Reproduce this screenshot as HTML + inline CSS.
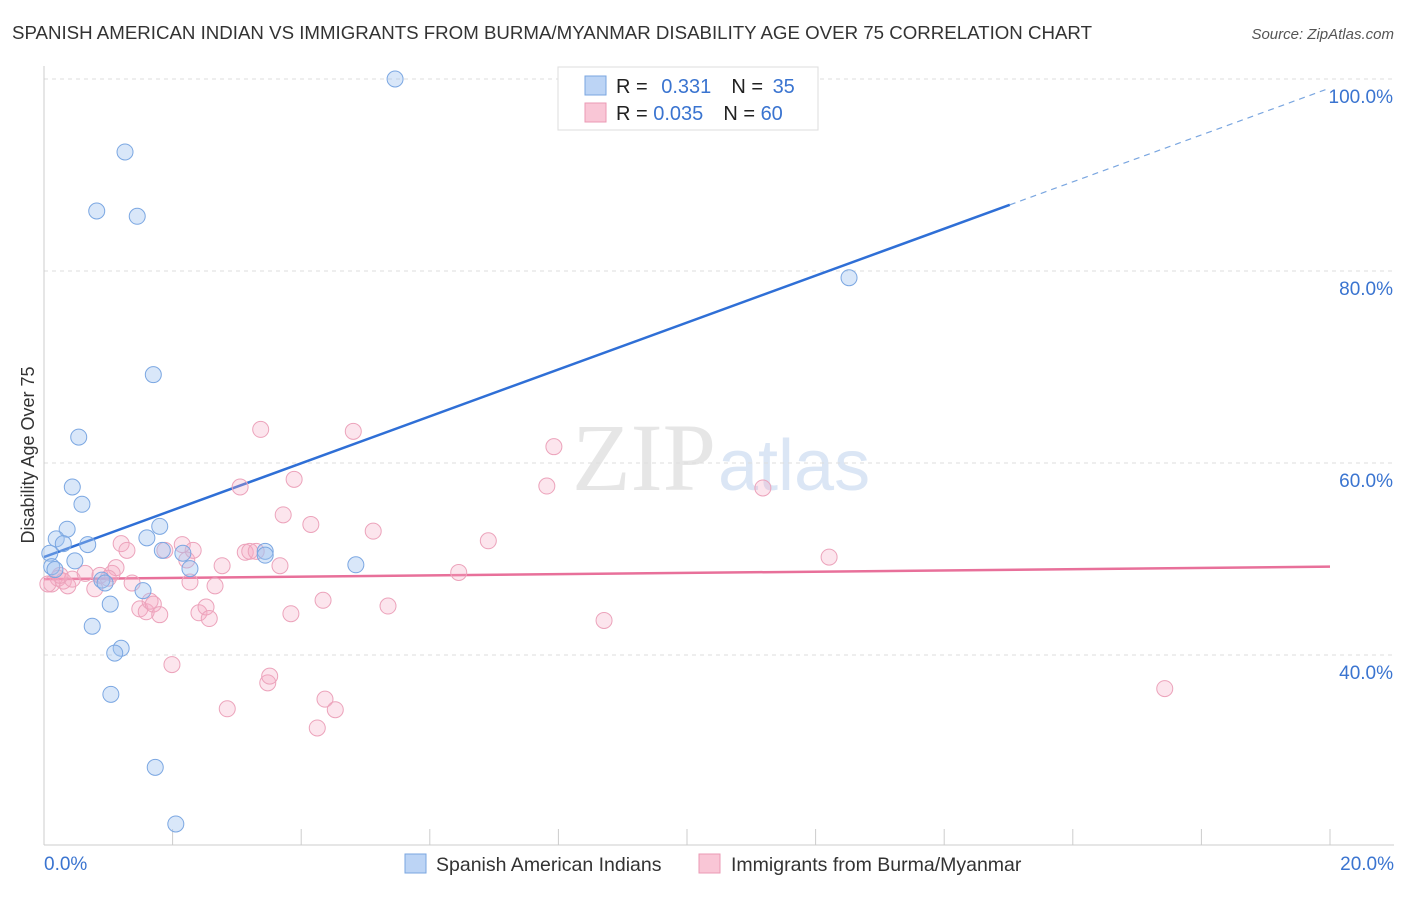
<!DOCTYPE html>
<html><head><meta charset="utf-8"><style>
body{margin:0;background:#fff;font-family:"Liberation Sans",sans-serif;}
</style></head><body>
<svg id="chart" width="1406" height="892" xmlns="http://www.w3.org/2000/svg">
<text x="12" y="39" font-size="18" fill="#333" textLength="1080" lengthAdjust="spacingAndGlyphs">SPANISH AMERICAN INDIAN VS IMMIGRANTS FROM BURMA/MYANMAR DISABILITY AGE OVER 75 CORRELATION CHART</text>
<text x="1394" y="39" font-size="15" fill="#555" font-style="italic" text-anchor="end">Source: ZipAtlas.com</text>
<text x="716" y="490" font-size="96" fill="#e6e6e6" text-anchor="end" font-family="Liberation Serif,serif">ZIP</text>
<text x="718" y="490" font-size="72" fill="#dbe6f5">atlas</text>
<g id="grid"></g><g id="axes"></g><g id="lines"></g><g id="points"></g>
<text transform="translate(34,455) rotate(-90)" font-size="18" fill="#333" text-anchor="middle">Disability Age Over 75</text>
<g>
<rect x="558" y="67" width="260" height="63" fill="#fff" stroke="#ddd"/>
<rect x="585" y="76" width="21" height="19" fill="#bcd4f5" stroke="#7aa6e0"/>
<rect x="585" y="103" width="21" height="19" fill="#f9c6d6" stroke="#eb9ab4"/>
<text x="616" y="93" font-size="20" fill="#222">R = <tspan fill="#3a74d0" dx="8">0.331</tspan><tspan dx="20" fill="#222">N = </tspan><tspan fill="#3a74d0" dx="4">35</tspan></text>
<text x="616" y="120" font-size="20" fill="#222">R = <tspan fill="#3a74d0">0.035</tspan><tspan dx="20" fill="#222">N = </tspan><tspan fill="#3a74d0">60</tspan></text>
</g>
<g>
<rect x="405" y="854" width="21" height="19" fill="#bcd4f5" stroke="#7aa6e0"/>
<text x="436" y="871" font-size="19.5" fill="#333">Spanish American Indians</text>
<rect x="699" y="854" width="21" height="19" fill="#f9c6d6" stroke="#eb9ab4"/>
<text x="731" y="871" font-size="19.5" fill="#333">Immigrants from Burma/Myanmar</text>
</g>
</svg>
<script>
const blueX=[5.46,1.26,0.82,1.45,12.52,1.70,0.54,0.44,0.59,0.36,1.80,0.19,0.30,0.68,1.60,1.84,2.16,3.44,3.44,0.09,0.12,0.48,2.27,4.85,0.90,0.95,1.54,1.03,0.75,1.20,1.10,1.04,1.73,2.05,0.17];
const blueY=[100.0,92.4,86.25,85.7,79.3,69.2,62.7,57.5,55.7,53.1,53.4,52.1,51.6,51.5,52.2,50.9,50.6,50.8,50.4,50.6,49.2,49.8,49.0,49.4,47.8,47.5,46.7,45.3,43.0,40.7,40.2,35.9,28.3,22.4,48.9];
const pinkX=[0.12,0.22,0.30,0.37,0.44,0.25,0.64,0.79,0.87,1.06,1.12,1.20,1.29,1.37,1.49,1.59,1.65,1.70,1.80,1.88,1.99,2.15,2.22,2.27,2.32,2.41,2.52,2.57,2.66,2.77,2.85,3.05,3.13,3.20,3.30,3.37,3.48,3.51,3.67,3.72,3.84,3.89,4.15,4.25,4.34,4.37,4.53,4.81,5.12,5.35,6.45,6.91,7.82,7.93,8.71,11.18,12.21,17.43,0.06,1.00];
const pinkY=[47.4,48.0,47.7,47.2,47.9,48.3,48.5,46.9,48.3,48.5,49.1,51.6,50.9,47.5,44.8,44.5,45.6,45.3,44.2,50.9,39.0,51.5,49.9,47.6,50.9,44.4,45.0,43.8,47.2,49.3,34.4,57.5,50.7,50.8,50.8,63.5,37.1,37.8,49.3,54.6,44.3,58.3,53.6,32.4,45.7,35.4,34.3,63.3,52.9,45.1,48.6,51.9,57.6,61.7,43.6,57.4,50.2,36.5,47.4,48.0];
const yTicks=[40,60,80,100];
const xTicks=[0,2,4,6,8,10,12,14,16,18,20];
const blueFit=[50.2,99.06];
const pinkFit=[47.9,49.2];
const blueSolidEnd=15.02;
const NS="http://www.w3.org/2000/svg";
const sx=v=>44+v*64.3, sy=v=>655-(v-40)*9.6;
function mk(t,a,p){const e=document.createElementNS(NS,t);for(const k in a)e.setAttribute(k,a[k]);document.getElementById(p).appendChild(e);return e;}
yTicks.forEach(t=>{
 const l=mk('line',{x1:44,x2:1394,y1:sy(t),y2:sy(t),stroke:'#ddd','stroke-dasharray':'4,4'},'grid');
 
 
 const tx=mk('text',{x:1393,y:sy(t)+24,'font-size':19,fill:'#3a74d0','text-anchor':'end'},'grid');
 tx.textContent=t.toFixed(1)+'%';
 
 
});
mk('line',{x1:44,x2:44,y1:66,y2:845,stroke:'#ccc'},'axes');
mk('line',{x1:44,x2:1394,y1:845,y2:845,stroke:'#ccc'},'axes');
xTicks.forEach(t=>{
 const l=mk('line',{x1:sx(t),x2:sx(t),y1:829,y2:845,stroke:'#ccc'},'axes');
 
 
});
[[0,'start',44],[20,'end',1394]].forEach(([t,a,x])=>{
 const tx=mk('text',{x:x,y:870,'font-size':19,fill:'#3a74d0','text-anchor':a},'axes');
 tx.textContent=t.toFixed(1)+'%';
 
 
});
const bf=x=>blueFit[0]+(blueFit[1]-blueFit[0])*x/20, pf=x=>pinkFit[0]+(pinkFit[1]-pinkFit[0])*x/20;
let l=mk('line',{x1:sx(0),y1:sy(bf(0)),x2:sx(blueSolidEnd),y2:sy(bf(blueSolidEnd)),stroke:'#2f6fd6','stroke-width':2.5},'lines');


l=mk('line',{x1:sx(blueSolidEnd),y1:sy(bf(blueSolidEnd)),x2:sx(20),y2:sy(bf(20)),stroke:'#7aa6e0','stroke-width':1.2,'stroke-dasharray':'6,5'},'lines');


l=mk('line',{x1:sx(0),y1:sy(pf(0)),x2:sx(20),y2:sy(pf(20)),stroke:'#e8709a','stroke-width':2.5},'lines');


pinkX.forEach((x,i)=>{
 const c=mk('circle',{cx:sx(x),cy:sy(pinkY[i]),r:8,fill:'rgba(245,170,195,0.3)',stroke:'#eca3bb','stroke-width':1},'points');
 
 
});
blueX.forEach((x,i)=>{
 const c=mk('circle',{cx:sx(x),cy:sy(blueY[i]),r:8,fill:'rgba(160,195,240,0.4)',stroke:'#7ba7e2','stroke-width':1},'points');
 
 
});
</script>
</body></html>
